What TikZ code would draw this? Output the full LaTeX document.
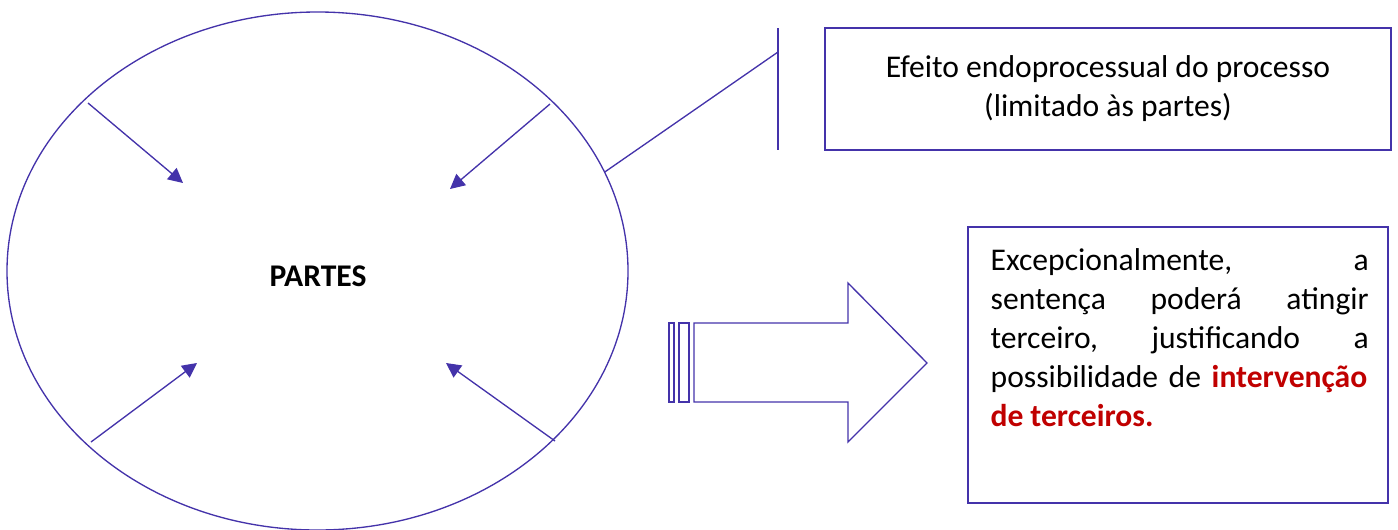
\documentclass[tikz,border=0pt]{standalone}
\usepackage{fontspec}
\setmainfont{Carlito}
\usetikzlibrary{shapes.geometric,arrows.meta}
\definecolor{azul}{RGB}{68,51,170}
\definecolor{vermelho}{RGB}{192,0,0}
\tikzset{every picture/.style={line width=1pt}}
\tikzset{
  contorno/.style={draw=azul, line width=1pt},
  seta/.style={draw=azul, line width=1pt, -{Triangle[length=11pt,width=11pt,fill=azul]}},
  texto/.style={inner sep=0.75pt, font=\fontsize{23.7}{29.3}\selectfont},
}

\begin{document}
\begin{tikzpicture}[x=0.75pt,y=0.75pt,yscale=-1,xscale=1]
\useasboundingbox (0,0) rectangle (1398,529);

%Shape: Ellipse [id:partes]
\node [contorno, ellipse, inner sep=0pt, outer sep=0pt, minimum width=465.75pt, minimum height=388.5pt] (partes) at (317.5,271) {};
% Text Node
\node [texto, font=\fontsize{23.7}{29.3}\selectfont\bfseries] (rotulo) at (318,276) {PARTES};

%Straight Lines [id:seta1]
\coordinate (s1a) at (88,103);
\coordinate (s1b) at (183,183);
\draw [seta] (s1a) -- (s1b);
%Straight Lines [id:seta2]
\coordinate (s2a) at (550,104);
\coordinate (s2b) at (450,189);
\draw [seta] (s2a) -- (s2b);
%Straight Lines [id:seta3]
\coordinate (s3a) at (91,442);
\coordinate (s3b) at (197,363);
\draw [seta] (s3a) -- (s3b);
%Straight Lines [id:seta4]
\coordinate (s4a) at (555,441);
\coordinate (s4b) at (446,363);
\draw [seta] (s4a) -- (s4b);

%Shape: Callout [id:barra]
\coordinate (barraTopo) at (778,28);
\coordinate (barraBase) at (778,150);
\coordinate (barraMeio) at (778,52);
\draw [contorno] (barraTopo) -- (barraBase);
\draw [contorno] (partes.19.7) -- (barraMeio);

%Shape: Rectangle [id:efeito]
\node [contorno, texto, minimum width=424.5pt, minimum height=91.5pt, align=center] (efeito) at (1108,89) {Efeito endoprocessual do processo\\(limitado às partes)};

%Shape: Right Arrow [id:setagrande]
\draw [contorno] (694,323) -- (848,323) -- (848,283) -- (927,363) -- (848,442) -- (848,402) -- (694,402) -- cycle;
\draw [contorno] (669,323) rectangle (674,402);
\draw [contorno] (679,323) rectangle (689,402);

%Shape: Rectangle [id:caixa]
\node [contorno, minimum width=315pt, minimum height=207pt] (caixa) at (1178,365) {};
% Text Node
\node [texto, anchor=base west, text width=283.5pt, align=left] (excecao) at (989,270) {Excepcionalmente,\hfill a\\
sentença\hfill poderá\hfill atingir\\
terceiro,\hfill justificando\hfill a\\
possibilidade de \textcolor{vermelho}{\bfseries intervenção}\\
\textcolor{vermelho}{\bfseries de\hspace{0.22em}terceiros.}\hfill\null};

\end{tikzpicture}
\end{document}
